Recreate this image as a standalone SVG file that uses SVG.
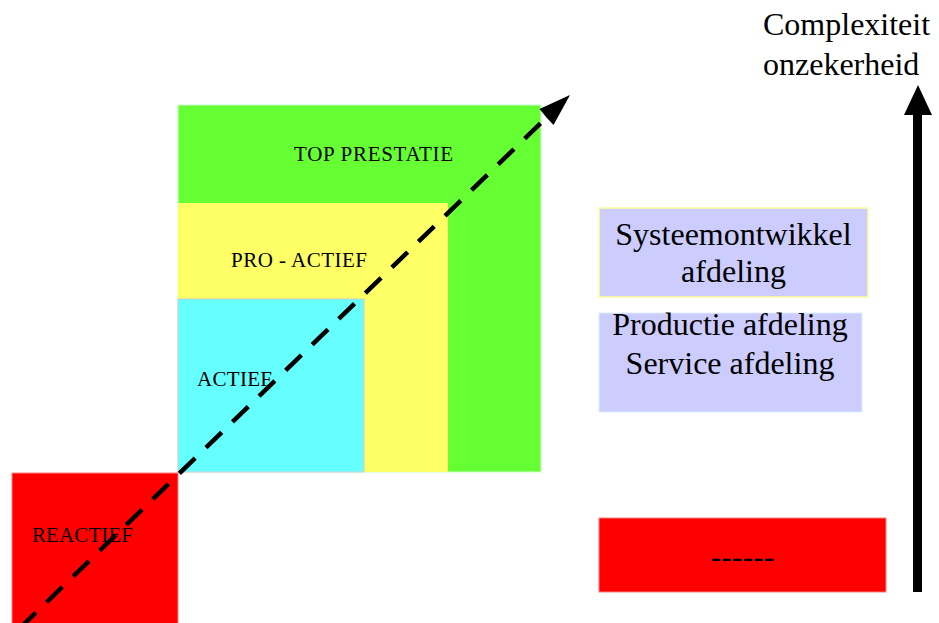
<svg xmlns="http://www.w3.org/2000/svg" width="939" height="623" viewBox="0 0 939 623">
  <style>
    text { font-family: "Liberation Serif", "Times New Roman", serif; fill: #000; }
    .lbl { font-size: 21px; }
    .big { font-size: 32px; }
    .mid { text-anchor: middle; }
  </style>
  <rect width="939" height="623" fill="#fff"/>

  <!-- nested performance levels -->
  <g id="top-prestatie">
    <rect x="178" y="105" width="363" height="367" fill="#66ff33" stroke="#ccffcc" stroke-width="1"/>
    <text class="lbl" x="294" y="161" textLength="159">TOP PRESTATIE</text>
  </g>
  <g id="pro-actief">
    <rect x="178" y="203" width="270" height="269" fill="#ffff66"/>
    <text class="lbl" x="231" y="267" textLength="136">PRO - ACTIEF</text>
  </g>
  <g id="actief">
    <rect x="178" y="299" width="186" height="173" fill="#66ffff" stroke="#cccccc" stroke-width="1"/>
    <text class="lbl" x="197" y="386" textLength="75">ACTIEF</text>
  </g>
  <g id="reactief">
    <rect x="12" y="473" width="166" height="160" fill="#ff0000" stroke="#ff8080" stroke-width="1"/>
    <text class="lbl" x="32" y="542" textLength="101">REACTIEF</text>
  </g>

  <!-- departments -->
  <g id="systeemontwikkel">
    <rect x="599" y="208" width="269" height="89" fill="#ccccff" stroke="#ffff99" stroke-width="1.5"/>
    <text class="big mid" x="733.5" y="245">Systeemontwikkel</text>
    <text class="big mid" x="733.5" y="282">afdeling</text>
  </g>
  <g id="productie-service">
    <rect x="599" y="313" width="263" height="99" fill="#ccccff" stroke="#ddeeff" stroke-width="1"/>
    <text class="big mid" x="730" y="335">Productie afdeling</text>
    <text class="big mid" x="730" y="374">Service afdeling</text>
  </g>
  <g id="onbekend">
    <rect x="599" y="518" width="287" height="74" fill="#ff0000" stroke="#ff8080" stroke-width="1"/>
    <text class="big mid" x="742.5" y="567">------</text>
  </g>

  <!-- axis -->
  <g id="as-label">
    <text class="big" x="763" y="35">Complexiteit</text>
    <text class="big" x="763" y="75">onzekerheid</text>
  </g>

  <g id="connectors">
    <line x1="20" y1="628" x2="548" y2="116" stroke="#000" stroke-width="4.5" stroke-dasharray="22 15"/>
    <path d="M570,95 L539.5,109 L546.5,117.5 L553.5,125 Z" fill="#000"/>
    <rect x="913" y="112" width="9" height="480" fill="#000"/>
    <path d="M918,85 L932,115 L904,115 Z" fill="#000"/>
  </g>
</svg>
